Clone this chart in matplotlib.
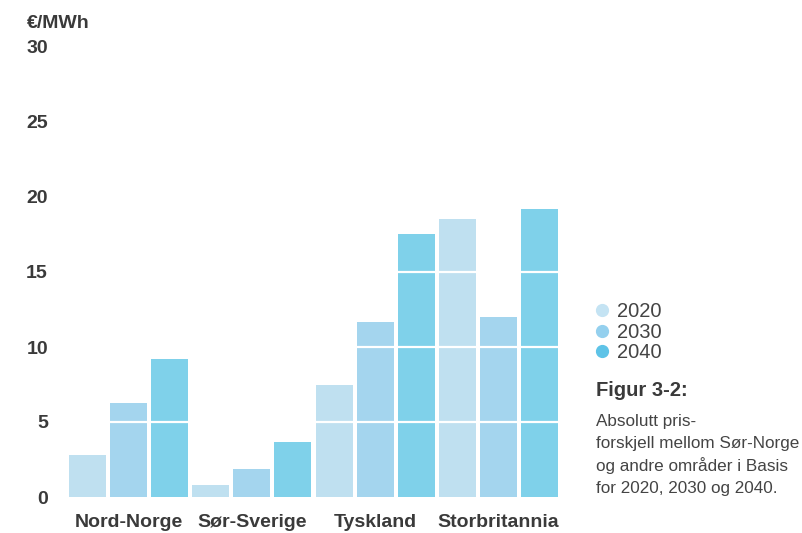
import numpy as np
import matplotlib.pyplot as plt
from matplotlib.lines import Line2D
from matplotlib.transforms import blended_transform_factory

plt.rcParams['font.family'] = ['Liberation Sans', 'DejaVu Sans']

regions = ['Nord-Norge', 'Sør-Sverige', 'Tyskland', 'Storbritannia']
years = ['2020', '2030', '2040']
v2020 = [2.8, 0.8, 7.5, 18.5]
v2030 = [6.3, 1.9, 11.7, 12.0]
v2040 = [9.2, 3.7, 17.5, 19.2]
yticks = [0, 5, 10, 15, 20, 25, 30]

bar_colors = ['#bfe0f0', '#a4d5ee', '#7fd1ea']
dot_colors = ['#c4e3f3', '#94d0ee', '#5ec3e7']
text_color = '#3a3a3a'
W, H = 803, 533


def fx(px):
    return px / W


def fy(py):
    return 1 - py / H


fig = plt.figure(figsize=(W / 100, H / 100), dpi=100)
ax = fig.add_axes([fx(69), 36 / H, 489 / W, 450 / H])

series = [v2020, v2030, v2040]
for i, (vals, col) in enumerate(zip(series, bar_colors)):
    x = np.arange(len(regions)) * 3 + i
    ax.bar(x, vals, width=0.9, color=col, zorder=2, label=years[i])

# white guide lines cut across the bars
for y in yticks[1:]:
    ax.axhline(y, color='white', lw=1.6, zorder=3)

ax.set_xlim(-0.45, 11.45)
ax.set_ylim(0, 30)
ax.set_yticks(yticks)
ax.set_yticklabels([str(t) for t in yticks], fontsize=14, fontweight='bold',
                   color=text_color)
ax.tick_params(axis='y', length=0, pad=(69 - 48) * 0.72)
ax.set_xticks([])
for s in ax.spines.values():
    s.set_visible(False)

# group names under each triple of bars
trans = blended_transform_factory(ax.transData, fig.transFigure)
for k, name in enumerate(regions):
    ax.text(k * 3 + 1, fy(527), name, transform=trans, fontsize=14,
            fontweight='bold', color=text_color, ha='center', va='baseline')

fig.text(fx(27), fy(28), '€/MWh', fontsize=14, fontweight='bold',
         color=text_color, va='baseline', ha='left')

# legend as coloured dots
for i, (yr, col) in enumerate(zip(years, dot_colors)):
    base = 317 + 20.5 * i
    fig.add_artist(Line2D([fx(602)], [fy(base - 7)], marker='o', markersize=8.5,
                          color=col, transform=fig.transFigure))
    fig.text(fx(617), fy(base), yr, fontsize=14.5, color='#444444',
             va='baseline', ha='left')

fig.text(fx(596), fy(396), 'Figur 3-2:', fontsize=14.5, fontweight='bold',
         color=text_color, va='baseline', ha='left')
caption = ['Absolutt pris-', 'forskjell mellom Sør-Norge',
           'og andre områder i Basis', 'for 2020, 2030 og 2040.']
for i, line in enumerate(caption):
    fig.text(fx(596), fy(426 + 22.3 * i), line, fontsize=12.3,
             color='#444444', va='baseline', ha='left')

fig.savefig('out.png', dpi=100)
